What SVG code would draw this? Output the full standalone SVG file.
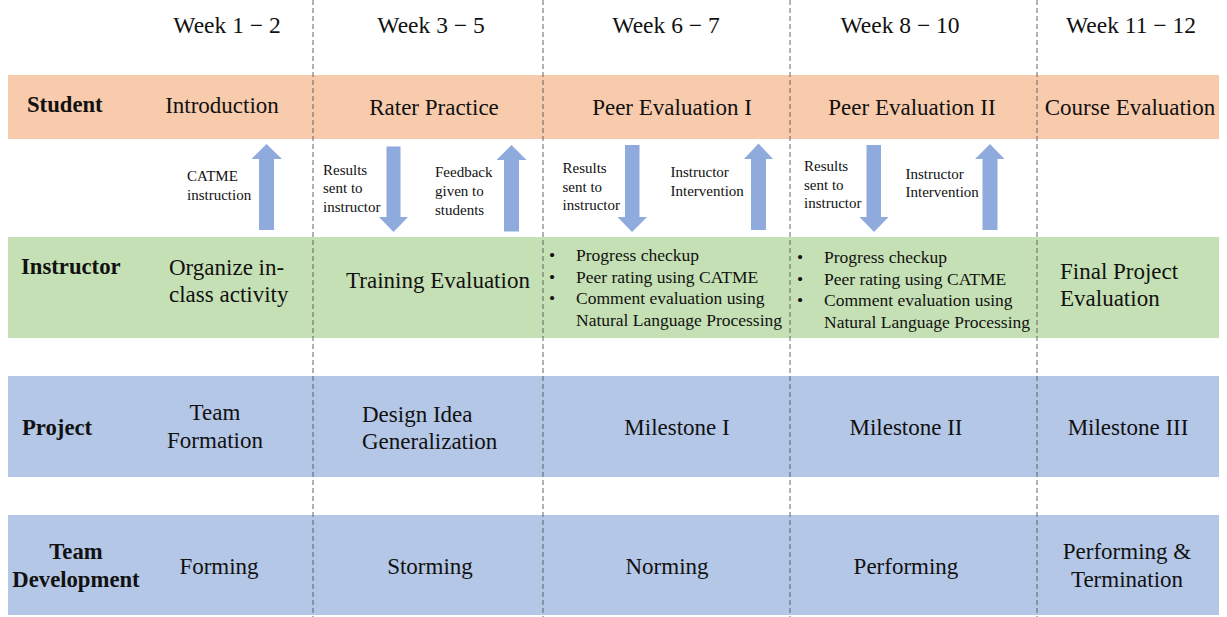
<svg xmlns="http://www.w3.org/2000/svg" width="1227" height="617" viewBox="0 0 1227 617">
  <style>
    text { font-family: "Liberation Serif", "Times New Roman", serif; fill: #111; }
    .hd { font-size: 23.5px; }
    .lbl { font-size: 23px; }
    .row { font-size: 22.7px; font-weight: bold; }
    .note { font-size: 15px; }
    .bul { font-size: 17.5px; }
    .mid { text-anchor: middle; }
    .student { fill: #F8CBAD; }
    .instructor { fill: #C5E0B4; }
    .project { fill: #B4C7E7; }
    .sep { stroke: #555; stroke-width: 0.9; stroke-dasharray: 5 3; fill: none; }
    .arrow { fill: #8FAADC; }
  </style>

  <rect width="1227" height="617" fill="#fff"/>

  <!-- horizontal bands -->
  <g id="bands">
    <rect class="student" x="8" y="75" width="1211" height="64"/>
    <rect class="instructor" x="8" y="237" width="1211" height="101"/>
    <rect class="project" x="8" y="376" width="1211" height="101"/>
    <rect class="project" x="8" y="515" width="1211" height="100"/>
  </g>

  <!-- week separators -->
  <g id="separators">
    <line class="sep" x1="313" y1="0" x2="313" y2="617"/>
    <line class="sep" x1="543" y1="0" x2="543" y2="617"/>
    <line class="sep" x1="790" y1="0" x2="790" y2="617"/>
    <line class="sep" x1="1037" y1="0" x2="1037" y2="617"/>
  </g>

  <!-- week headers -->
  <g id="weeks">
    <text class="hd mid" x="227" y="33">Week 1 − 2</text>
    <text class="hd mid" x="431" y="33">Week 3 − 5</text>
    <text class="hd mid" x="666" y="33">Week 6 − 7</text>
    <text class="hd mid" x="900" y="33">Week 8 − 10</text>
    <text class="hd mid" x="1131" y="33">Week 11 − 12</text>
  </g>

  <!-- row labels -->
  <g id="row-student"><text class="row" x="27" y="112">Student</text></g>
  <g id="row-instructor"><text class="row" x="21" y="274">Instructor</text></g>
  <g id="row-project"><text class="row" x="22" y="435">Project</text></g>
  <g id="row-team">
    <text class="row mid" x="76" y="559">Team</text>
    <text class="row mid" x="76" y="587">Development</text>
  </g>

  <!-- student row -->
  <g id="introduction"><text class="lbl mid" x="222" y="113">Introduction</text></g>
  <g id="rater-practice"><text class="lbl mid" x="434" y="115">Rater Practice</text></g>
  <g id="peer-eval-1"><text class="lbl mid" x="672" y="115">Peer Evaluation I</text></g>
  <g id="peer-eval-2"><text class="lbl mid" x="912" y="115">Peer Evaluation II</text></g>
  <g id="course-eval"><text class="lbl mid" x="1130" y="115">Course Evaluation</text></g>

  <!-- instructor row -->
  <g id="organize">
    <text class="lbl" x="169" y="275">Organize in-</text>
    <text class="lbl" x="169" y="302">class activity</text>
  </g>
  <g id="training-eval"><text class="lbl mid" x="438" y="288">Training Evaluation</text></g>
  <g id="checkup-1">
    <text class="bul" x="549" y="261">•</text>
    <text class="bul" x="549" y="283">•</text>
    <text class="bul" x="549" y="304">•</text>
    <text class="bul" x="576" y="261">Progress checkup</text>
    <text class="bul" x="576" y="283">Peer rating using CATME</text>
    <text class="bul" x="576" y="304">Comment evaluation using</text>
    <text class="bul" x="576" y="326">Natural Language Processing</text>
  </g>
  <g id="checkup-2">
    <text class="bul" x="797" y="263">•</text>
    <text class="bul" x="797" y="285">•</text>
    <text class="bul" x="797" y="306">•</text>
    <text class="bul" x="824" y="263">Progress checkup</text>
    <text class="bul" x="824" y="285">Peer rating using CATME</text>
    <text class="bul" x="824" y="306">Comment evaluation using</text>
    <text class="bul" x="824" y="328">Natural Language Processing</text>
  </g>
  <g id="final-eval">
    <text class="lbl" x="1060" y="279">Final Project</text>
    <text class="lbl" x="1060" y="306">Evaluation</text>
  </g>

  <!-- project row -->
  <g id="team-formation">
    <text class="lbl mid" x="215" y="420">Team</text>
    <text class="lbl mid" x="215" y="448">Formation</text>
  </g>
  <g id="design-idea">
    <text class="lbl" x="362" y="422">Design Idea</text>
    <text class="lbl" x="362" y="449">Generalization</text>
  </g>
  <g id="milestone-1"><text class="lbl mid" x="677" y="435">Milestone I</text></g>
  <g id="milestone-2"><text class="lbl mid" x="906" y="435">Milestone II</text></g>
  <g id="milestone-3"><text class="lbl mid" x="1128" y="435">Milestone III</text></g>

  <!-- team development row -->
  <g id="forming"><text class="lbl mid" x="219" y="574">Forming</text></g>
  <g id="storming"><text class="lbl mid" x="430" y="574">Storming</text></g>
  <g id="norming"><text class="lbl mid" x="667" y="574">Norming</text></g>
  <g id="performing"><text class="lbl mid" x="906" y="574">Performing</text></g>
  <g id="termination">
    <text class="lbl mid" x="1127" y="559">Performing &amp;</text>
    <text class="lbl mid" x="1127" y="587">Termination</text>
  </g>

  <!-- connectors between student and instructor rows -->
  <g id="connectors">
    <!-- up: CATME instruction -->
    <polygon class="arrow" points="259,230 274,230 274,159 282,159 266.5,144 251.5,159 259,159"/>
    <!-- down: results sent to instructor (weeks 3-5) -->
    <polygon class="arrow" points="386.5,146.5 400.5,146.5 400.5,217 408,217 393.5,232 379,217 386.5,217"/>
    <!-- up: feedback given to students -->
    <polygon class="arrow" points="504,231.5 519,231.5 519,160 526.5,160 511.5,145 496.5,160 504,160"/>
    <!-- down: results sent to instructor (weeks 6-7) -->
    <polygon class="arrow" points="625,145 639.5,145 639.5,217 647,217 632,232 617.5,217 625,217"/>
    <!-- up: instructor intervention (weeks 6-7) -->
    <polygon class="arrow" points="751,230 766,230 766,159 773,159 758.5,143.5 744,159 751,159"/>
    <!-- down: results sent to instructor (weeks 8-10) -->
    <polygon class="arrow" points="866.5,145 881,145 881,217 888.5,217 874,232 859.5,217 866.5,217"/>
    <!-- up: instructor intervention (weeks 8-10) -->
    <polygon class="arrow" points="982.5,230 997.5,230 997.5,159 1004.5,159 990,144 975,159 982.5,159"/>

    <text class="note" x="187" y="181">CATME</text>
    <text class="note" x="187" y="199.5">instruction</text>

    <text class="note" x="323" y="174.5">Results</text>
    <text class="note" x="323" y="193">sent to</text>
    <text class="note" x="323" y="212">instructor</text>

    <text class="note" x="435" y="177">Feedback</text>
    <text class="note" x="435" y="195.5">given to</text>
    <text class="note" x="435" y="214.5">students</text>

    <text class="note" x="562.5" y="173">Results</text>
    <text class="note" x="562.5" y="191.5">sent to</text>
    <text class="note" x="562.5" y="209.5">instructor</text>

    <text class="note" x="670.5" y="177">Instructor</text>
    <text class="note" x="670.5" y="195.5">Intervention</text>

    <text class="note" x="804" y="171">Results</text>
    <text class="note" x="804" y="190">sent to</text>
    <text class="note" x="804" y="208">instructor</text>

    <text class="note" x="905.5" y="179">Instructor</text>
    <text class="note" x="905.5" y="197">Intervention</text>
  </g>
</svg>
